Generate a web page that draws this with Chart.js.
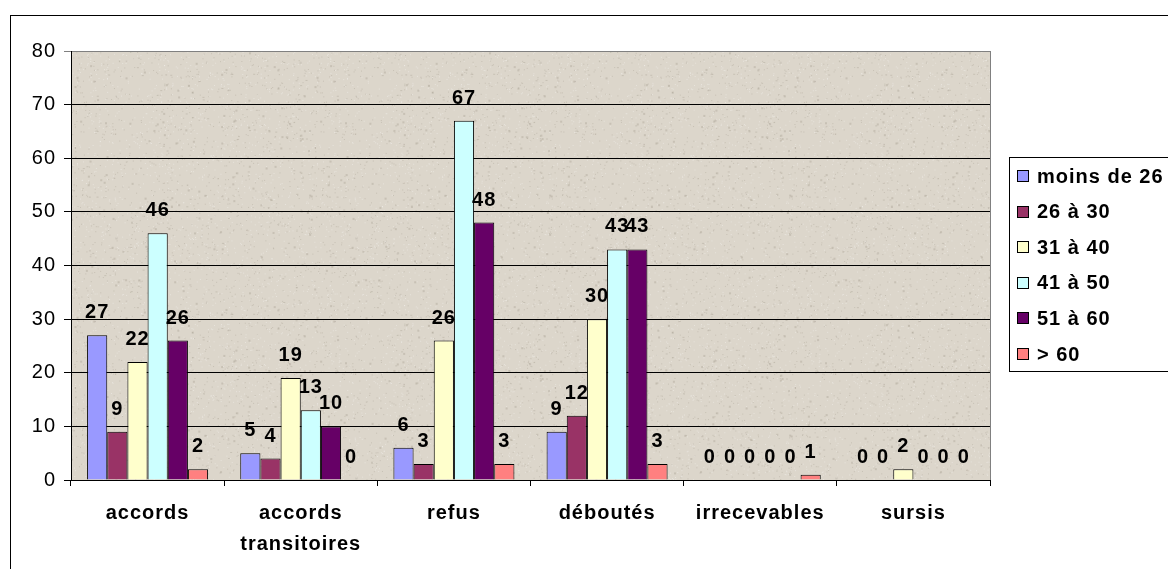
<!DOCTYPE html>
<html>
<head>
<meta charset="utf-8">
<script src="https://cdn.jsdelivr.net/npm/chart.js@4.4.0/dist/chart.umd.min.js"></script>
<style>
  html, body { margin: 0; padding: 0; background: #fff; }
</style>
</head>
<body>
<canvas id="decisionsChart" width="1168" height="569"></canvas>
<script>
// Décisions par tranche d'âge
const categories = ["accords", ["accords", "transitoires"], "refus", "déboutés", "irrecevables", "sursis"];
const ageGroups = ["moins de 26", "26 à 30", "31 à 40", "41 à 50", "51 à 60", "> 60"];
const moins26 = [27, 5, 6, 9, 0, 0];
const de26a30 = [9, 4, 3, 12, 0, 0];
const de31a40 = [22, 19, 26, 30, 0, 2];
const de41a50 = [46, 13, 67, 43, 0, 0];
const de51a60 = [26, 10, 48, 43, 0, 0];
const plus60 = [2, 0, 3, 3, 1, 0];
const yTicks = [0, 10, 20, 30, 40, 50, 60, 70, 80];

const barColors = ["#9999ff", "#993366", "#ffffcc", "#ccffff", "#660066", "#ff8080"];
const seriesValues = [moins26, de26a30, de31a40, de41a50, de51a60, plus60];
const FONT = "'Liberation Sans', Arial, sans-serif";

// parchment-like fill for the plot area
function makeParchment() {
  const c = document.createElement("canvas");
  c.width = 240; c.height = 240;
  const g = c.getContext("2d");
  g.fillStyle = "#dcd6cb";
  g.fillRect(0, 0, 240, 240);
  let s = 12345;
  const next = () => { s = (s * 1103515245 + 12345) & 0x7fffffff; return s / 0x7fffffff; };
  for (let i = 0; i < 2600; i++) {
    const x = next() * 240, y = next() * 240, v = next();
    g.fillStyle = v < 0.5 ? "rgba(255,255,255,0.35)" : "rgba(140,130,115,0.25)";
    g.fillRect(x, y, 1 + (v > 0.93 ? 1 : 0), 1 + (v > 0.96 ? 1 : 0));
  }
  return c;
}
const parchment = makeParchment();

const plotBackground = {
  id: "plotBackground",
  beforeDraw(chart) {
    const { ctx, chartArea: a } = chart;
    ctx.letterSpacing = "1px";
    ctx.save();
    ctx.fillStyle = ctx.createPattern(parchment, "repeat");
    ctx.fillRect(a.left, a.top, a.right - a.left, a.bottom - a.top);
    ctx.restore();
  },
  afterDraw(chart) {
    const { ctx, chartArea: a } = chart;
    ctx.save();
    ctx.strokeStyle = "#808080";
    ctx.lineWidth = 1;
    ctx.beginPath();
    ctx.moveTo(Math.round(a.right) + 0.5, a.top);
    ctx.lineTo(Math.round(a.right) + 0.5, a.bottom);
    ctx.stroke();
    // outer chart frame
    ctx.strokeStyle = "#000";
    ctx.strokeRect(10.5, 15.5, 2000, 2000);
    ctx.restore();
  }
};

const valueLabels = {
  id: "valueLabels",
  afterDatasetsDraw(chart) {
    const { ctx } = chart;
    ctx.save();
    ctx.font = "bold 20px " + FONT;
    ctx.fillStyle = "#000";
    ctx.textAlign = "center";
    ctx.textBaseline = "alphabetic";
    chart.data.datasets.forEach((ds, i) => {
      chart.getDatasetMeta(i).data.forEach((bar, j) => {
        ctx.fillText(String(ds.data[j]), bar.x, bar.y - 17);
      });
    });
    ctx.restore();
  }
};

const boxedLegend = {
  id: "boxedLegend",
  afterDraw(chart) {
    const { ctx } = chart;
    ctx.save();
    ctx.strokeStyle = "#000";
    ctx.lineWidth = 1;
    ctx.strokeRect(1009.5, 157.5, 300, 214);
    ctx.font = "bold 20px " + FONT;
    ctx.textBaseline = "middle";
    ctx.textAlign = "left";
    chart.data.datasets.forEach((ds, i) => {
      const y = 176 + i * 35.6;
      ctx.fillStyle = ds.backgroundColor;
      ctx.fillRect(1017.5, Math.round(y - 6) + 0.5, 11, 11);
      ctx.strokeRect(1017.5, Math.round(y - 6) + 0.5, 11, 11);
      ctx.fillStyle = "#000";
      ctx.fillText(ds.label, 1037, y + 1);
    });
    ctx.restore();
  }
};

new Chart(document.getElementById("decisionsChart"), {
  type: "bar",
  data: {
    labels: categories,
    datasets: ageGroups.map((name, i) => ({
      label: name,
      data: seriesValues[i],
      backgroundColor: barColors[i],
      borderColor: "#000",
      borderWidth: 1,
      categoryPercentage: 0.79,
      barPercentage: 1
    }))
  },
  options: {
    responsive: false,
    animation: false,
    layout: { padding: { left: 0, top: 51, right: 178, bottom: 0 } },
    plugins: {
      legend: { display: false },
      tooltip: { enabled: false }
    },
    scales: {
      x: {
        afterFit(scale) { scale.height = 89; },
        grid: { drawOnChartArea: false, tickLength: 6, color: "#000" },
        border: { color: "#000" },
        ticks: {
          color: "#000",
          padding: 12,
          maxRotation: 0,
          font: { family: FONT, size: 20, weight: "bold", lineHeight: 1.55 }
        }
      },
      y: {
        min: 0,
        max: 80,
        afterFit(scale) { scale.width = 71; },
        afterBuildTicks(scale) { scale.ticks = yTicks.map(v => ({ value: v })); },
        grid: {
          tickLength: 7,
          color: ctx => (ctx.tick && ctx.tick.value === 80 ? "#808080" : "#000")
        },
        border: { color: "#000" },
        ticks: {
          color: "#000",
          padding: 8,
          font: { family: FONT, size: 20 }
        }
      }
    }
  },
  plugins: [plotBackground, valueLabels, boxedLegend]
});
</script>
</body>
</html>
